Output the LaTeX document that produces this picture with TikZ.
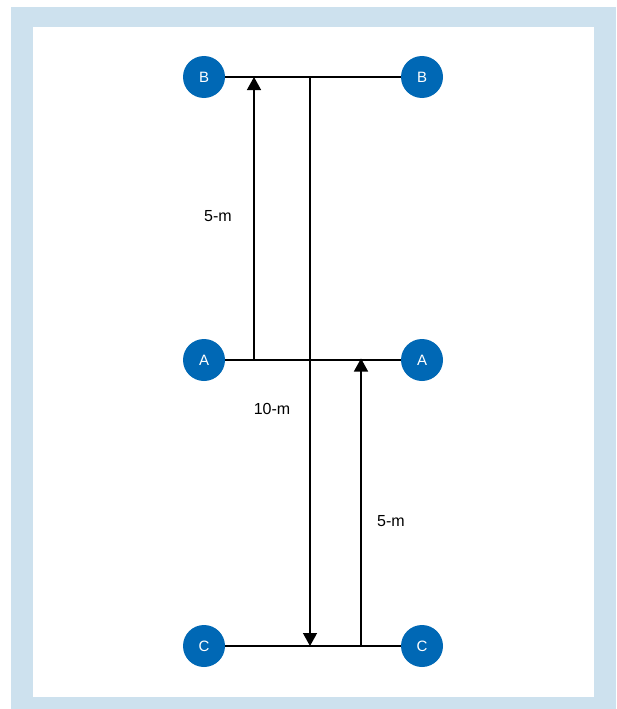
\documentclass[tikz,border=0pt]{standalone}
\usepackage{fontspec}
\setmainfont{Liberation Sans}
\usetikzlibrary{arrows.meta}
\definecolor{frame}{HTML}{CDE1EE}
\definecolor{dot}{HTML}{0068B5}
\tikzset{
  pt/.style={circle, fill=dot, minimum size=42pt, inner sep=0pt, text=white, font=\fontsize{15}{17}\selectfont},
  link/.style={line width=1.4pt, black},
  arr/.style={line width=1.4pt, black, -{Triangle[width=14pt,length=13pt]}},
  lbl/.style={font=\fontsize{16}{18}\selectfont, text=black}
}
\begin{document}
\begin{tikzpicture}[x=1pt,y=-1pt]
\useasboundingbox (0,0) rectangle (616,709);
\fill[white] (0,0) rectangle (616,709);
\fill[frame] (11,7) rectangle (616,709);
\fill[white] (33,27) rectangle (594,697);
\node[pt] (B1) at (204,77) {B};
\node[pt] (B2) at (422,77) {B};
\node[pt] (A1) at (204,360) {A};
\node[pt] (A2) at (422,360) {A};
\node[pt] (C1) at (204,646) {C};
\node[pt] (C2) at (422,646) {C};
\draw[link] (B1) -- (B2);
\draw[link] (A1) -- (A2);
\draw[link] (C1) -- (C2);
\coordinate (u1) at (254,0);
\coordinate (u2) at (310,0);
\coordinate (u3) at (361,0);
\draw[arr] (A1 -| u1) -- (B1 -| u1);
\draw[arr] (B1 -| u2) -- (C1 -| u2);
\draw[arr] (C1 -| u3) -- ([yshift=1.5pt]A1 -| u3);
\node[lbl] (l1) at (218,216) {5-m};
\node[lbl] (l2) at (272,409) {10-m};
\node[lbl] (l3) at (391,521) {5-m};
\end{tikzpicture}
\end{document}
